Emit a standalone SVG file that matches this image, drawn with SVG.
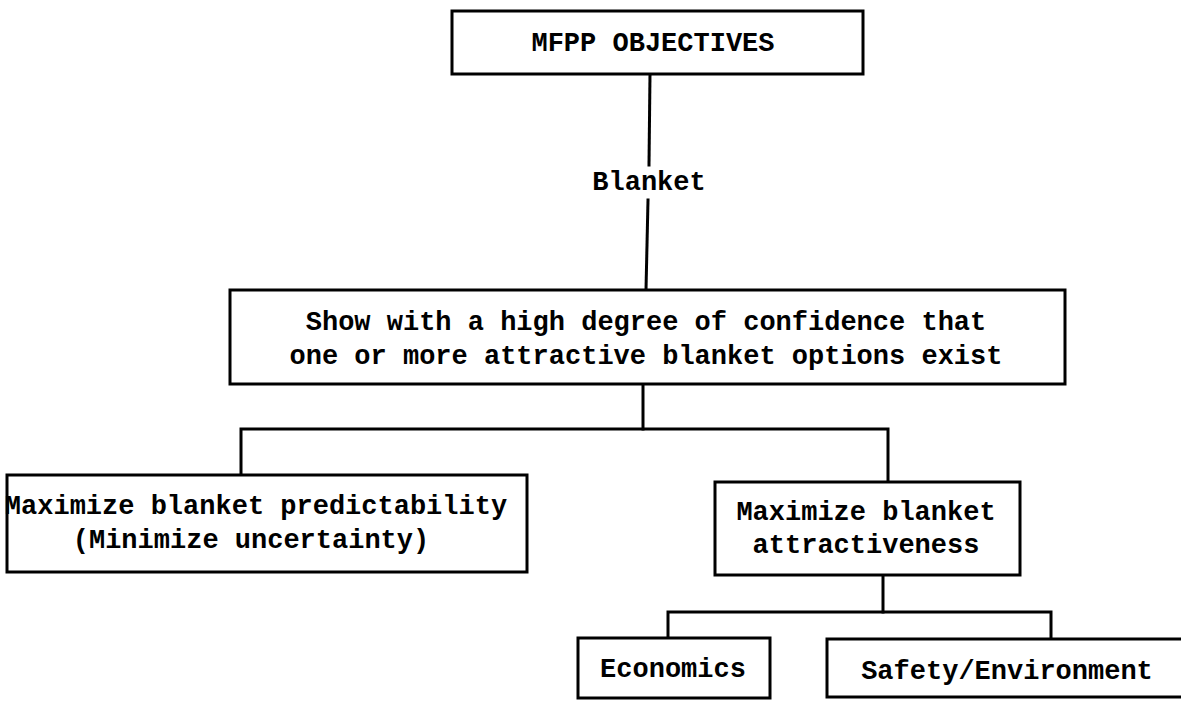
<svg xmlns="http://www.w3.org/2000/svg" width="1181" height="709" viewBox="0 0 1181 709">
<style>
.box{fill:#fff;stroke:#000;stroke-width:3}
.ln{stroke:#000;stroke-width:3;fill:none;stroke-linecap:square}
.t{font-family:"Liberation Mono","DejaVu Sans Mono",monospace;font-size:27px;fill:#000;text-anchor:middle;font-weight:bold}
</style>
<rect width="1181" height="709" fill="#fff"/>
<g id="connectors">
<polyline class="ln" points="650,74 649,165"/>
<polyline class="ln" points="648,200 646,290"/>
<polyline class="ln" points="643,384 643,429"/>
<polyline class="ln" points="241,475 241,429 888,429 888,482"/>
<polyline class="ln" points="883,575 883,612"/>
<polyline class="ln" points="668,638 668,612 1051,612 1051,639"/>
<text class="t" x="649" y="190">Blanket</text>
</g>
<g id="n_objectives">
<rect class="box" x="452" y="11" width="411" height="63"/>
<text class="t" x="653" y="51">MFPP OBJECTIVES</text>
</g>
<g id="n_show">
<rect class="box" x="230" y="290" width="835" height="94"/>
<text class="t" x="646" y="330">Show with a high degree of confidence that</text>
<text class="t" x="646" y="364">one or more attractive blanket options exist</text>
</g>
<g id="n_predict">
<rect class="box" x="7" y="475" width="520" height="97"/>
<text class="t" x="256" y="514">Maximize blanket predictability</text>
<text class="t" x="251" y="548">(Minimize uncertainty)</text>
</g>
<g id="n_attract">
<rect class="box" x="715" y="482" width="305" height="93"/>
<text class="t" x="866" y="520">Maximize blanket</text>
<text class="t" x="866" y="553">attractiveness</text>
</g>
<g id="n_econ">
<rect class="box" x="578" y="638" width="192" height="60"/>
<text class="t" x="673" y="677">Economics</text>
</g>
<g id="n_safety">
<rect class="box" x="827" y="639" width="380" height="58"/>
<text class="t" x="1007" y="679">Safety/Environment</text>
</g>
</svg>
